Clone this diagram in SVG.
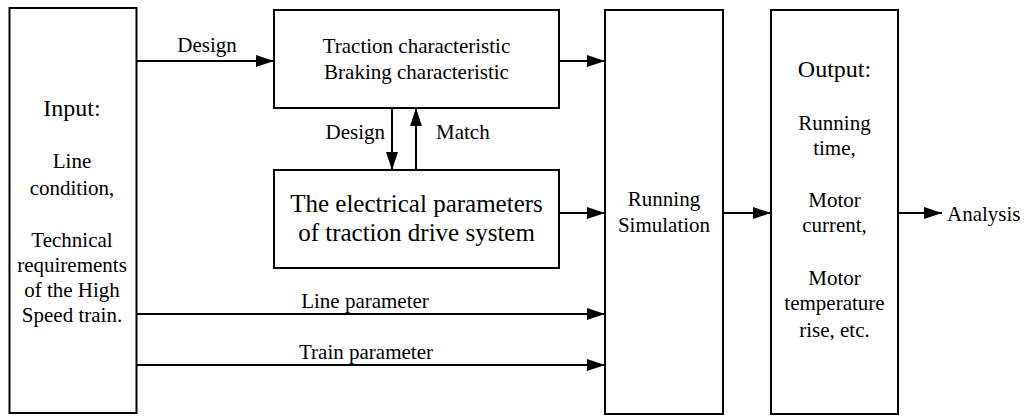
<svg xmlns="http://www.w3.org/2000/svg" width="1027" height="416" viewBox="0 0 1027 416">
  <style>
    .box { fill: #ffffff; stroke: #000000; stroke-width: 2; }
    .wire { fill: none; stroke: #000000; stroke-width: 2; marker-end: url(#head); }
    text { font-family: "Liberation Serif", "Times New Roman", serif; fill: #000000; }
    .t21 { font-size: 21px; }
    .t24 { font-size: 24px; }
    .t25 { font-size: 25px; }
    .mid { text-anchor: middle; }
  </style>
  <defs>
    <marker id="head" markerUnits="userSpaceOnUse" markerWidth="18" markerHeight="12" refX="18" refY="6" orient="auto">
      <path d="M0,0 L18,6 L0,12 Z" fill="#000000"/>
    </marker>
  </defs>
  <rect width="1027" height="416" fill="#ffffff"/>

  <!-- input block -->
  <g id="input">
    <rect class="box" x="9.5" y="8" width="127" height="405"/>
    <text class="t24 mid" x="72" y="116">Input:</text>
    <text class="t21 mid" x="72" y="168">Line</text>
    <text class="t21 mid" x="72" y="195">condition,</text>
    <text class="t21 mid" x="72" y="247">Technical</text>
    <text class="t21 mid" x="72" y="272">requirements</text>
    <text class="t21 mid" x="72" y="297">of the High</text>
    <text class="t21 mid" x="72" y="322">Speed train.</text>
  </g>

  <!-- traction / braking characteristic block -->
  <g id="characteristic">
    <rect class="box" x="274" y="10" width="285" height="98"/>
    <text class="t21 mid" x="416.5" y="53">Traction characteristic</text>
    <text class="t21 mid" x="416.5" y="79">Braking characteristic</text>
  </g>

  <!-- electrical parameters block -->
  <g id="electrical">
    <rect class="box" x="274" y="170" width="285" height="98"/>
    <text class="t25 mid" x="416.5" y="212">The electrical parameters</text>
    <text class="t25 mid" x="416.5" y="241">of traction drive system</text>
  </g>

  <!-- simulation block -->
  <g id="simulation">
    <rect class="box" x="605" y="10" width="118" height="404"/>
    <text class="t21 mid" x="664" y="206">Running</text>
    <text class="t21 mid" x="664" y="232">Simulation</text>
  </g>

  <!-- output block -->
  <g id="output">
    <rect class="box" x="771" y="10" width="127" height="404"/>
    <text class="t24 mid" x="834.5" y="77">Output:</text>
    <text class="t21 mid" x="834.5" y="130">Running</text>
    <text class="t21 mid" x="834.5" y="155">time,</text>
    <text class="t21 mid" x="834.5" y="207">Motor</text>
    <text class="t21 mid" x="834.5" y="232">current,</text>
    <text class="t21 mid" x="834.5" y="285">Motor</text>
    <text class="t21 mid" x="834.5" y="310">temperature</text>
    <text class="t21 mid" x="834.5" y="337">rise, etc.</text>
  </g>

  <!-- analysis label -->
  <g id="analysis">
    <text class="t21" x="947" y="221">Analysis</text>
  </g>

  <!-- connectors -->
  <g id="connectors">
    <line class="wire" x1="136" y1="61" x2="274" y2="61"/>
    <text class="t21 mid" x="207" y="52">Design</text>

    <line class="wire" x1="392" y1="108" x2="392" y2="170"/>
    <text class="t21" x="385" y="139" text-anchor="end">Design</text>
    <line class="wire" x1="416" y1="170" x2="416" y2="108"/>
    <text class="t21" x="436" y="139">Match</text>

    <line class="wire" x1="559" y1="61" x2="605" y2="61"/>
    <line class="wire" x1="559" y1="213" x2="605" y2="213"/>

    <line class="wire" x1="136" y1="314" x2="605" y2="314"/>
    <text class="t21 mid" x="365" y="308">Line parameter</text>
    <line class="wire" x1="136" y1="365" x2="605" y2="365"/>
    <text class="t21 mid" x="366" y="359">Train parameter</text>

    <line class="wire" x1="723" y1="213" x2="771" y2="213"/>
    <line class="wire" x1="898" y1="213" x2="942" y2="213"/>
  </g>
</svg>
